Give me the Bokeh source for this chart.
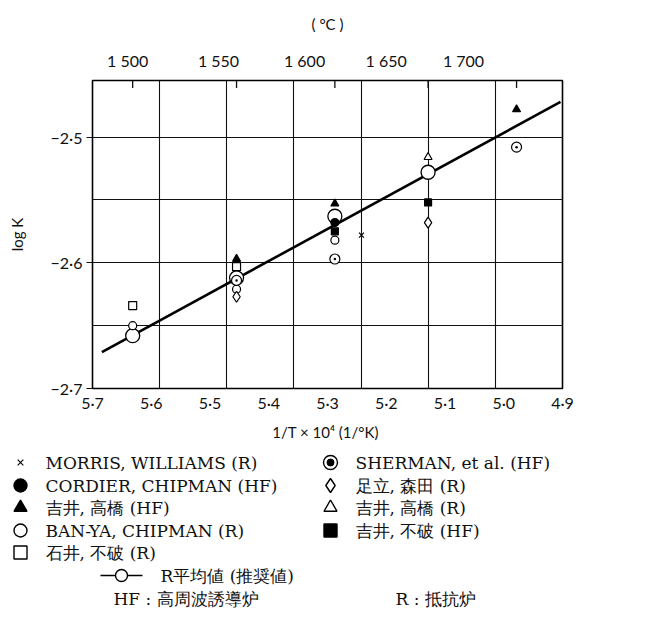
from bokeh.plotting import figure
from bokeh.models import (Range1d, LinearAxis, FixedTicker, Grid, ColumnDataSource,
                          CustomJSTickFormatter)
from bokeh.layouts import column
from bokeh.embed import file_html
from bokeh.resources import INLINE
from bokeh.core.properties import value

# ---------------------------------------------------------------- data
# measurement temperatures (°C) marked on the upper scale
temp_ticks_c = [1500, 1550, 1600, 1650, 1700]

# log K for each source, keyed by melt temperature in °C
morris_t = [1614]
morris_logk = [-2.578]
cordier_t = [1600]
cordier_logk = [-2.568]
yoshii_hf_t = [1550, 1600, 1700]
yoshii_hf_logk = [-2.597, -2.553, -2.478]
banya_t = [1500, 1550, 1600]
banya_logk = [-2.650, -2.621, -2.582]
ishii_t = [1500, 1550]
ishii_logk = [-2.634, -2.603]
sherman_t = [1550, 1600, 1700]
sherman_logk = [-2.614, -2.597, -2.508]
adachi_t = [1550, 1650]
adachi_logk = [-2.627, -2.568]
yoshii_r_t = [1650]
yoshii_r_logk = [-2.516]
yoshii_fuwa_t = [1600, 1650]
yoshii_fuwa_logk = [-2.575, -2.552]

# recommended mean of the resistance-furnace results
avg_t = [1500, 1550, 1600, 1650]
avg_logk = [-2.658, -2.612, -2.563, -2.528]
# ends of the recommended line, in 1/T x 10^4
line_inv_t = [5.686, 5.003]
line_logk = [-2.671, -2.472]

# lower-scale tick values (1/T x 10^4) and log K ticks
inv_t_ticks = [5.7, 5.6, 5.5, 5.4, 5.3, 5.2, 5.1, 5.0, 4.9]
logk_ticks = [-2.7, -2.6, -2.5]


def inv_t(temps):
    return [1e4 / (t + 273) for t in temps]


SERIF = "DejaVu Serif"
INK = "#111111"

# ---------------------------------------------------------------- main plot
Y_TOP = -2.455
p = figure(width=648, height=450,
           x_range=Range1d(5.7, 5.0), y_range=Range1d(-2.7, Y_TOP),
           output_backend="svg", toolbar_location=None,
           x_axis_location=None, y_axis_location=None,
           min_border_left=92, min_border_right=86,
           min_border_top=80, min_border_bottom=62)
p.frame_align = False
p.extra_x_ranges = {"scale": Range1d(5.7, 4.9)}
p.outline_line_color = "black"
p.outline_line_width = 1.6
p.background_fill_color = "white"
p.border_fill_color = "white"
p.center = []

# grid: 0.1 steps of 1/T, 0.05 steps of log K
vgrid = Grid(dimension=0, ticker=FixedTicker(ticks=[5.6, 5.5, 5.4, 5.3, 5.2, 5.1]),
             grid_line_color=INK, grid_line_width=1.1)
hgrid = Grid(dimension=1, ticker=FixedTicker(ticks=[-2.65, -2.6, -2.55, -2.5]),
             grid_line_color=INK, grid_line_width=1.1)
p.add_layout(vgrid)
p.add_layout(hgrid)

# short temperature marks hanging from the top edge
tick_x = inv_t(temp_ticks_c)
tick_len = 0.006
p.segment(x0=tick_x, y0=[Y_TOP] * len(tick_x), x1=tick_x,
          y1=[Y_TOP - tick_len] * len(tick_x), line_color=INK, line_width=1.3)

dot_fmt = CustomJSTickFormatter(
    code="return (tick < 0 ? '\u2212' : '') + Math.abs(tick).toFixed(1).replace('.', '\u00b7');")
degc_fmt = CustomJSTickFormatter(
    code="const c = Math.round(1e4 / tick - 273); return String(c).replace(/^(\\d)(\\d{3})$/, '$1 $2');")

# bottom: 1/T x 10^4
bottom = LinearAxis(x_range_name="scale", ticker=FixedTicker(ticks=inv_t_ticks),
                    formatter=dot_fmt, axis_label="1/T \u00d7 10\u2074  (1/\u00b0K)")
bottom.major_tick_in = 0
bottom.major_tick_out = 0
bottom.major_tick_line_color = None
bottom.minor_tick_line_color = None
bottom.axis_line_color = None
bottom.major_label_standoff = 4
bottom.axis_label_standoff = 8
p.add_layout(bottom, "below")

# left: log K
left = LinearAxis(ticker=FixedTicker(ticks=logk_ticks, minor_ticks=[-2.65, -2.55]),
                  formatter=dot_fmt, axis_label="log K")
left.major_tick_in = 0
left.major_tick_out = 6
left.major_tick_line_color = INK
left.minor_tick_line_color = None
left.axis_line_color = None
left.major_label_standoff = 4
left.axis_label_standoff = 22
p.add_layout(left, "left")

# top: temperature in °C
top = LinearAxis(x_range_name="scale", ticker=FixedTicker(ticks=tick_x),
                 formatter=degc_fmt, axis_label="( \u00b0C )")
top.major_tick_line_color = None
top.minor_tick_line_color = None
top.axis_line_color = None
top.major_label_standoff = 5
top.axis_label_standoff = 15
p.add_layout(top, "above")

for ax in (bottom, left, top):
    ax.major_label_text_font = "Lato"
    ax.major_label_text_font_size = "16px"
    ax.major_label_text_color = INK
    ax.axis_label_text_font = "Lato"
    ax.axis_label_text_font_size = "15px"
    ax.axis_label_text_font_style = "normal"
    ax.axis_label_text_color = INK

# recommended line and its mean points
p.line(line_inv_t, line_logk, line_color="black", line_width=2.6)

series = [
    # (temps, values, marker, filled, size, label)
    (morris_t, morris_logk, "x", False, 7, "MORRIS, WILLIAMS (R)"),
    (cordier_t, cordier_logk, "circle", True, 8, "CORDIER, CHIPMAN (HF)"),
    (yoshii_hf_t, yoshii_hf_logk, "triangle", True, 8, "吉井, 高橋 (HF)"),
    (banya_t, banya_logk, "circle", False, 8, "BAN-YA, CHIPMAN (R)"),
    (ishii_t, ishii_logk, "square", False, 8, "石井, 不破 (R)"),
    (sherman_t, sherman_logk, "circle_dot", False, 10, "SHERMAN, et al. (HF)"),
    (adachi_t, adachi_logk, "diamond", False, 11, "足立, 森田 (R)"),
    (yoshii_r_t, yoshii_r_logk, "triangle", False, 8, "吉井, 高橋 (R)"),
    (yoshii_fuwa_t, yoshii_fuwa_logk, "square", True, 7, "吉井, 不破 (HF)"),
]

p.scatter(inv_t(avg_t), avg_logk, marker="circle", size=14,
          fill_color="white", line_color="black", line_width=1.3)

for temps, vals, marker, filled, size, _ in series:
    src = ColumnDataSource(dict(x=inv_t(temps), y=vals))
    p.scatter("x", "y", source=src, marker=marker, size=size,
              fill_color="black" if filled else "white",
              line_color="black", line_width=1.2)

# ---------------------------------------------------------------- legend panel
lg = figure(width=648, height=169, x_range=Range1d(0, 648), y_range=Range1d(169, 0),
            output_backend="svg", toolbar_location=None,
            x_axis_location=None, y_axis_location=None, min_border=0)
lg.frame_align = False
lg.outline_line_color = None
lg.center = []
lg.background_fill_color = "white"
lg.border_fill_color = "white"

FS = "17px"
row_y = [12, 35, 57, 80, 102]
col_marker_x = [20, 330]
col_text_x = [45, 355]
legend_sizes = {"x": 8, "circle": 13, "triangle": 13, "square": 13,
                "circle_dot": 14, "diamond": 14}
order = [(0, 0), (0, 1), (0, 2), (0, 3), (0, 4), (1, 0), (1, 1), (1, 2), (1, 3)]
for (col, row), (_, _, marker, filled, _, label) in zip(order, series):
    mx, my = col_marker_x[col], row_y[row]
    if marker == "circle_dot":
        # ring with a large solid centre
        lg.scatter([mx], [my], marker="circle", size=14, fill_color="white",
                   line_color="black", line_width=1.4)
        lg.scatter([mx], [my], marker="circle", size=7, fill_color="black",
                   line_color="black")
    else:
        lg.scatter([mx], [my], marker=marker, size=legend_sizes[marker],
                   fill_color="black" if filled else "white",
                   line_color="black", line_width=1.4 if marker != "x" else 1.1)
    lg.text([col_text_x[col]], [my], text=[label],
            text_font=value(SERIF), text_font_size=FS,
            text_baseline="middle", text_color=INK)

lg.line([100, 142], [125, 125], line_color="black", line_width=1.5)
lg.scatter([121], [125], marker="circle", size=12, fill_color="white",
           line_color="black", line_width=1.4)
lg.text([160], [125], text=["R平均値 (推奨値)"], text_font=value(SERIF),
        text_font_size=FS, text_baseline="middle", text_color=INK)
lg.text([113, 395], [148, 148], text=["HF : 高周波誘導炉", "R : 抵抗炉"],
        text_font=value(SERIF), text_font_size=FS,
        text_baseline="middle", text_color=INK)

layout = column(p, lg, spacing=0)
open("out.html", "w").write(file_html(layout, INLINE))
